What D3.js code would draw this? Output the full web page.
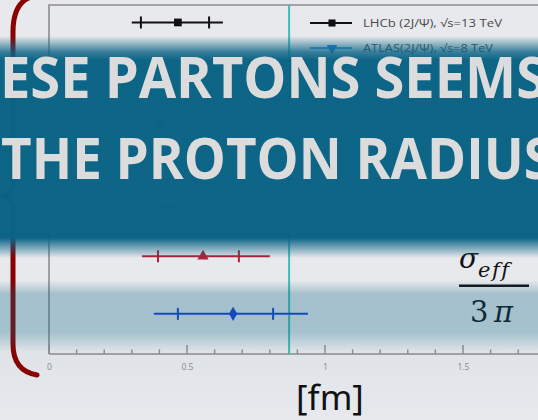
<!DOCTYPE html>
<html>
<head>
<meta charset="utf-8">
<style>
  html, body { margin: 0; padding: 0; background: #e8e9ed; overflow: hidden; }
  svg { display: block; }
</style>
</head>
<body>
<script src="https://cdn.jsdelivr.net/npm/d3@7/dist/d3.min.js"></script>
<script>
const width = 538;
const height = 420;

// values (fm)
const seriesNames = ["LHCb (2J/Ψ), √s=13 TeV", "ATLAS(2J/Ψ), √s=8 TeV", "", "", ""];
const centralValues = [0.467, 0.40, 0.43, 0.558, 0.667];
const statLow  = [0.333, 0.31, 0.38, 0.395, 0.467];
const statHigh = [0.580, 0.49, 0.48, 0.688, 0.812];
const totLow   = [0.300, 0.25, 0.355, 0.337, 0.380];
const totHigh  = [0.630, 0.54, 0.51, 0.800, 0.938];
const rowY     = [9.5, 6.6, 4.2, 2.8, 1.15];   // hidden y coordinate of each entry
const protonRadius = 0.87;
const xMajorTicks = [0, 0.5, 1, 1.5];
const xMinorTicks = d3.range(0, 19).map(i => i / 10);
const bannerLines = ["ESE PARTONS SEEMS", "THE PROTON RADIUS"];

// styles
const colors = ["#111111", "#1e88d8", "#3a9a4a", "#b02038", "#1a3fd8"];
const symbols = [d3.symbolSquare, d3.symbolTriangle, d3.symbolCircle, d3.symbolTriangle, d3.symbolDiamond];
const symRot = [0, 180, 0, 0, 0];

const svg = d3.select("body").append("svg")
    .attr("width", width).attr("height", height);

const x = d3.scaleLinear().domain([0, 1.8]).range([49, 49 + 1.8 * 276]);
const y = d3.scaleLinear().domain([0, 10]).range([354, 5]);

svg.append("rect").attr("width", width).attr("height", height).attr("fill", "#e8e9ed");

// frame
svg.append("path")
    .attr("d", `M${x(0)},${y(0)} V${y(10)} H${width + 10} M${x(0)},${y(0)} H${width + 10}`)
    .attr("fill", "none").attr("stroke", "#8c8c8c").attr("stroke-width", 1.6);

// x axis ticks
const ax = svg.append("g").attr("transform", `translate(0,${y(0)})`);
ax.call(d3.axisBottom(x).tickValues(xMajorTicks).tickSize(0).tickPadding(10).tickFormat(d3.format("")))
  .call(g => g.select(".domain").remove())
  .call(g => g.selectAll("text").attr("fill", "#8a8a8a").attr("font-size", 8.5).attr("font-family", "Open Sans"));
ax.selectAll("line.minor").data(xMinorTicks).enter().append("line")
    .attr("x1", d => x(d)).attr("x2", d => x(d))
    .attr("y1", 0).attr("y2", d => Math.abs(d * 2 - Math.round(d * 2)) < 1e-6 ? -9 : -4.5)
    .attr("stroke", "#8c8c8c").attr("stroke-width", 1.4);

// proton radius line
svg.append("line")
    .attr("x1", x(protonRadius)).attr("x2", x(protonRadius))
    .attr("y1", y(10)).attr("y2", y(0))
    .attr("stroke", "#3cbcb4").attr("stroke-width", 2);

// error bars
const idx = d3.range(centralValues.length);
const pts = svg.append("g").selectAll("g").data(idx).enter().append("g");
pts.append("line")
    .attr("x1", i => x(totLow[i])).attr("x2", i => x(totHigh[i]))
    .attr("y1", i => y(rowY[i])).attr("y2", i => y(rowY[i]))
    .attr("stroke", i => colors[i]).attr("stroke-width", 2);
pts.selectAll("line.cap").data(i => [[i, statLow[i]], [i, statHigh[i]]]).enter().append("line")
    .attr("x1", d => x(d[1])).attr("x2", d => x(d[1]))
    .attr("y1", d => y(rowY[d[0]]) - 6).attr("y2", d => y(rowY[d[0]]) + 6)
    .attr("stroke", d => colors[d[0]]).attr("stroke-width", 2);
pts.append("path")
    .attr("d", i => d3.symbol().type(symbols[i]).size(symbols[i] === d3.symbolTriangle ? 55 : 60)())
    .attr("transform", i => `translate(${x(centralValues[i])},${y(rowY[i])}) rotate(${symRot[i]})`)
    .attr("fill", i => colors[i]);

// legend
const legendColors = ["#111111", "#4aa0e0"];
const lg = svg.append("g").selectAll("g").data(seriesNames.slice(0, 2)).enter().append("g")
    .attr("transform", (d, i) => `translate(310,${23 + i * 25})`);
lg.append("line").attr("x1", 0).attr("x2", 42).attr("stroke", (d, i) => legendColors[i]).attr("stroke-width", 2);
lg.append("path")
    .attr("d", (d, i) => d3.symbol().type(symbols[i]).size(50)())
    .attr("transform", (d, i) => `translate(22,0) rotate(${symRot[i]})`)
    .attr("fill", (d, i) => colors[i]);
lg.append("text").attr("x", 53).attr("dy", "0.35em")
    .attr("font-family", "Open Sans").attr("font-size", 11).attr("fill", "#4a4a4a")
    .attr("textLength", (d, i) => i ? 130 : 139).attr("lengthAdjust", "spacingAndGlyphs")
    .text(d => d);

// bracket
svg.append("path")
    .attr("d", "M31,-3 Q13,3 13,32 L13,182 Q13,193 3,196 Q13,199 13,210 L13,344 Q13,371 37,375")
    .attr("fill", "none").attr("stroke", "#8b0000").attr("stroke-width", 5).attr("stroke-linecap", "round");

// sigma_eff / 3 pi
const frac = svg.append("g").attr("font-family", "DejaVu Serif").attr("fill", "#111");
frac.append("text").attr("x", 459).attr("y", 268).attr("font-size", 28).attr("font-style", "italic").text("σ");
frac.append("text").attr("x", 478).attr("y", 277).attr("font-size", 21).attr("font-style", "italic")
    .attr("letter-spacing", 1.5).text("eff");
frac.append("rect").attr("x", 459).attr("y", 284.5).attr("width", 70).attr("height", 2.5);
frac.append("text").attr("x", 470).attr("y", 322).attr("font-size", 29).text("3");
frac.append("text").attr("x", 494).attr("y", 322).attr("font-size", 29).attr("font-style", "italic").text("π");

// unit
svg.append("text").attr("x", 330).attr("y", 410).attr("text-anchor", "middle")
    .attr("font-family", "Noto Sans").attr("font-size", 35).attr("fill", "#111").text("[fm]");

// overlay banner
const defs = svg.append("defs");
const grad = defs.append("linearGradient").attr("id", "band")
    .attr("gradientUnits", "userSpaceOnUse").attr("x1", 0).attr("x2", 0).attr("y1", 0).attr("y2", height);
[[0, 0], [36, 0], [52, 0.8], [60, 0.985], [238, 0.985], [258, 0], [280, 0], [294, 0.3], [332, 0.3], [352, 0.04], [420, 0]]
  .forEach(s => grad.append("stop").attr("offset", s[0] / height).attr("stop-color", "#0a6385").attr("stop-opacity", s[1]));
svg.append("rect").attr("width", width).attr("height", height).attr("fill", "url(#band)");

svg.append("g").selectAll("text").data(bannerLines).enter().append("text")
    .attr("x", (d, i) => i ? 1 : 0).attr("y", (d, i) => 98 + i * 81)
    .attr("font-family", "Open Sans").attr("font-weight", 700).attr("font-size", 57)
    .attr("fill", "#dcdcdc")
    .attr("textLength", (d, i) => i ? 552 : 546).attr("lengthAdjust", "spacingAndGlyphs")
    .text(d => d);
</script>
</body>
</html>
